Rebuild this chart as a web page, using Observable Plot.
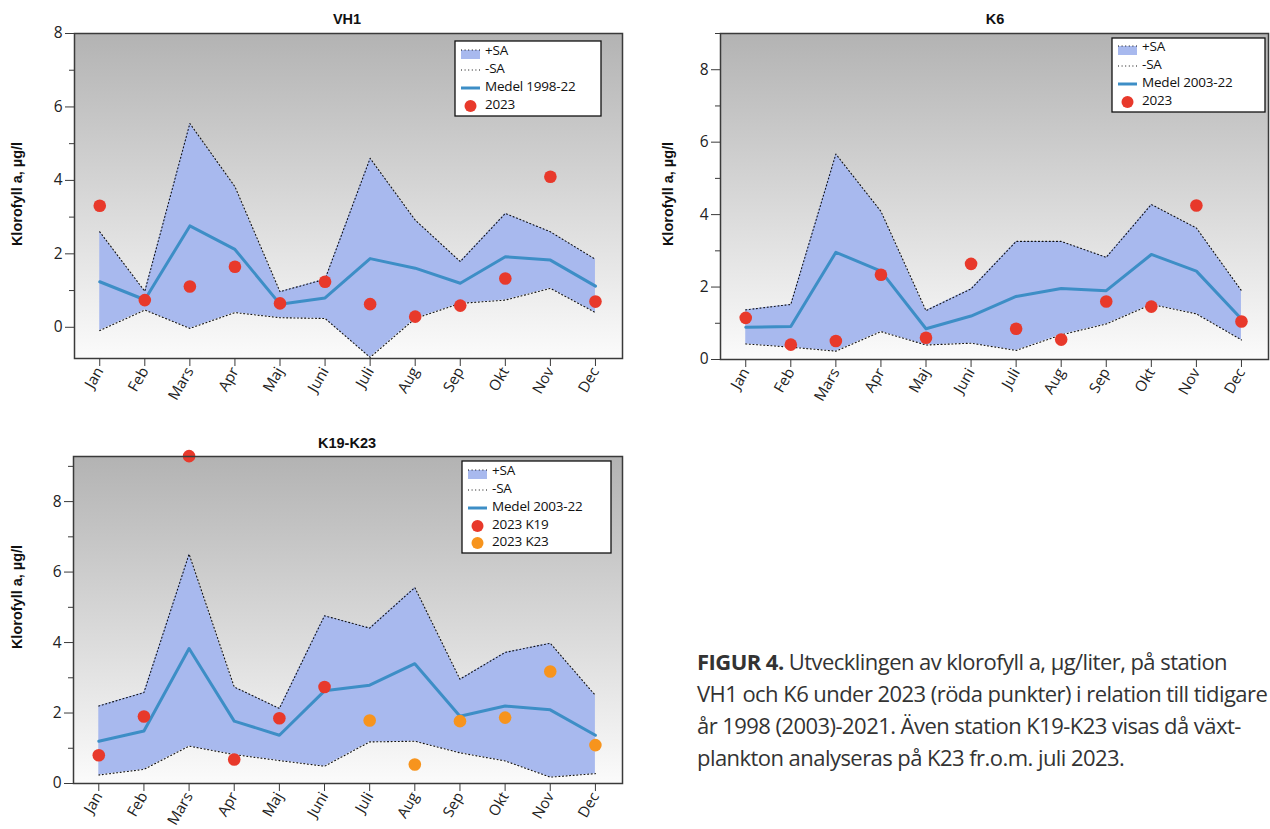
<!DOCTYPE html>
<html>
<head>
<meta charset="utf-8">
<script src="https://cdn.jsdelivr.net/npm/d3@7"></script>
<script src="https://cdn.jsdelivr.net/npm/@observablehq/plot@0.6"></script>
<style>
  html, body { margin: 0; padding: 0; background: #fff; width: 1270px; height: 829px; overflow: hidden; }
  #root { position: relative; width: 1270px; height: 829px; }
  .panel { position: absolute; }
  .caption { position: absolute; left: 697px; top: 645px; font-family: "Open Sans", sans-serif; font-size: 22px; line-height: 32px; color: #333; white-space: nowrap; letter-spacing: -0.55px; }
  .caption b { font-weight: 700; }
  #overlay { position: absolute; left: 0; top: 0; pointer-events: none; }
</style>
</head>
<body>
<div id="root"></div>
<script>
// ---------- data ----------
const months = ["Jan","Feb","Mars","Apr","Maj","Juni","Juli","Aug","Sep","Okt","Nov","Dec"];

// VH1
const vh1Upper = [2.60, 0.98, 5.55, 3.83, 0.97, 1.31, 4.60, 2.92, 1.79, 3.10, 2.60, 1.85];
const vh1Lower = [-0.09, 0.47, -0.03, 0.40, 0.26, 0.24, -0.82, 0.24, 0.65, 0.74, 1.06, 0.40];
const vh1Mean  = [1.24, 0.75, 2.76, 2.12, 0.63, 0.80, 1.87, 1.61, 1.20, 1.92, 1.83, 1.12];
const vh1Obs   = [3.31, 0.74, 1.11, 1.65, 0.65, 1.24, 0.63, 0.29, 0.59, 1.33, 4.10, 0.70];

// K6
const k6Upper = [1.37, 1.52, 5.67, 4.09, 1.35, 1.95, 3.26, 3.26, 2.82, 4.28, 3.63, 1.90];
const k6Lower = [0.43, 0.34, 0.23, 0.77, 0.40, 0.45, 0.25, 0.68, 0.98, 1.52, 1.26, 0.54];
const k6Mean  = [0.89, 0.91, 2.96, 2.44, 0.85, 1.20, 1.74, 1.96, 1.90, 2.90, 2.44, 1.12];
const k6Obs   = [1.15, 0.41, 0.51, 2.34, 0.60, 2.64, 0.85, 0.55, 1.60, 1.46, 4.25, 1.05];

// K19-K23
const k19Upper = [2.20, 2.58, 6.51, 2.74, 2.13, 4.76, 4.41, 5.56, 2.96, 3.72, 3.98, 2.50];
const k19Lower = [0.24, 0.40, 1.06, 0.82, 0.65, 0.49, 1.18, 1.20, 0.87, 0.64, 0.18, 0.28];
const k19Mean  = [1.20, 1.49, 3.83, 1.77, 1.37, 2.63, 2.79, 3.40, 1.91, 2.20, 2.09, 1.37];
const k19Obs   = [0.80, 1.90, 9.29, 0.68, 1.85, 2.74, null, null, null, null, null, null];
const k23Obs   = [null, null, null, null, null, null, 1.79, 0.54, 1.77, 1.87, 3.18, 1.09];

const titles = ["VH1", "K6", "K19-K23"];
const yLabel = "Klorofyll a, µg/l";
const legendVH1 = ["+SA", "-SA", "Medel 1998-22", "2023"];
const legendK6 = ["+SA", "-SA", "Medel 2003-22", "2023"];
const legendK19 = ["+SA", "-SA", "Medel 2003-22", "2023 K19", "2023 K23"];

// ---------- styles ----------
const C = {
  area: "#a8b9ee",
  mean: "#3d8ec6",
  red: "#e8392b",
  orange: "#f7941d",
  frame: "#3a3a3a",
  dots: "1,2.6"
};
const FONT = "'Open Sans', 'Noto Sans', sans-serif";

const root = document.getElementById("root");

function panel(cfg) {
  const data = months.map((m, i) => ({x: i + 1, up: cfg.upper[i], lo: cfg.lower[i], mean: cfg.mean[i]}));
  const pts = [];
  cfg.series.forEach(s => s.values.forEach((v, i) => { if (v != null) pts.push({x: i + 1, v, c: s.color}); }));
  const svg = Plot.plot({
    width: cfg.width, height: cfg.height,
    marginLeft: cfg.ml, marginRight: cfg.mr, marginTop: cfg.mt, marginBottom: cfg.mb,
    style: {fontFamily: FONT, fontSize: "15px", color: "#222", background: "transparent", overflow: "visible"},
    x: {domain: [0.44, 12.6], axis: null},
    y: {domain: cfg.ydomain, axis: null},
    marks: [
      Plot.frame({fill: `url(#${cfg.id}-grad)`}),
      Plot.areaY(data, {x: "x", y1: "lo", y2: "up", fill: C.area, fillOpacity: 1}),
      Plot.lineY(data, {x: "x", y: "up", stroke: "#111", strokeWidth: 1.1, strokeDasharray: C.dots}),
      Plot.lineY(data, {x: "x", y: "lo", stroke: "#111", strokeWidth: 1.1, strokeDasharray: C.dots}),
      Plot.lineY(data, {x: "x", y: "mean", stroke: C.mean, strokeWidth: 3}),
      Plot.dot(pts, {x: "x", y: "v", r: 6.3, fill: "c", stroke: null}),
      Plot.frame({stroke: C.frame, strokeWidth: 1.5}),
      Plot.axisY({ticks: cfg.major, tickSize: 9, tickPadding: 3, label: null, fontSize: 15.5, stroke: C.frame}),
      Plot.axisY({ticks: cfg.minor, tickSize: 5, tickFormat: () => "", label: null, stroke: C.frame}),
      Plot.axisX({ticks: d3.range(1, 13), tickFormat: i => months[i - 1], tickRotate: -60, tickSize: 8, tickPadding: 2, label: null, fontSize: 15, stroke: C.frame})
    ]
  });
  const defs = d3.select(svg).insert("defs", ":first-child");
  const g = defs.append("linearGradient").attr("id", `${cfg.id}-grad`).attr("x1", 0).attr("y1", 0).attr("x2", 0).attr("y2", 1);
  g.append("stop").attr("offset", "0%").attr("stop-color", "#b3b3b3");
  g.append("stop").attr("offset", "100%").attr("stop-color", "#fbfbfb");
  const div = document.createElement("div");
  div.className = "panel";
  div.style.left = cfg.left + "px";
  div.style.top = cfg.top + "px";
  div.appendChild(svg);
  root.appendChild(div);
}

panel({id: "vh1", left: 0, top: 0, width: 630, height: 420, ml: 74, mr: 8, mt: 33, mb: 62,
  ydomain: [-0.85, 8], major: [0, 2, 4, 6, 8], minor: [1, 3, 5, 7],
  upper: vh1Upper, lower: vh1Lower, mean: vh1Mean,
  series: [{values: vh1Obs, color: C.red}]});

panel({id: "k6", left: 640, top: 0, width: 630, height: 420, ml: 80, mr: 2, mt: 33, mb: 61,
  ydomain: [0, 9], major: [0, 2, 4, 6, 8], minor: [1, 3, 5, 7, 9],
  upper: k6Upper, lower: k6Lower, mean: k6Mean,
  series: [{values: k6Obs, color: C.red}]});

panel({id: "k19", left: 0, top: 430, width: 630, height: 399, ml: 73, mr: 8, mt: 26, mb: 46,
  ydomain: [0, 9.28], major: [0, 2, 4, 6, 8], minor: [1, 3, 5, 7, 9],
  upper: k19Upper, lower: k19Lower, mean: k19Mean,
  series: [{values: k19Obs, color: C.red}, {values: k23Obs, color: C.orange}]});

// ---------- overlay: titles, y labels, legends ----------
const ov = d3.select(root).append("svg").attr("id", "overlay").attr("width", 1270).attr("height", 829);

const titlePos = [[347, 20], [995, 20], [347, 444]];
titles.forEach((t, i) => ov.append("text").attr("x", titlePos[i][0]).attr("y", titlePos[i][1])
  .attr("text-anchor", "middle").attr("dominant-baseline", "middle")
  .attr("font-family", "'Liberation Sans', Arial, sans-serif").attr("font-weight", "bold").attr("font-size", 14.5).attr("fill", "#111").text(t));

const ylabPos = [[18, 194], [669, 194], [18, 597]];
ylabPos.forEach(([x, y]) => ov.append("text").attr("transform", `translate(${x},${y}) rotate(-90)`)
  .attr("text-anchor", "middle").attr("dominant-baseline", "middle")
  .attr("font-family", "'Liberation Sans', Arial, sans-serif").attr("font-weight", "bold").attr("font-size", 14.5).attr("fill", "#111").text(yLabel));

function legend(box, rows, items) {
  const g = ov.append("g");
  g.append("rect").attr("x", box.x).attr("y", box.y).attr("width", box.w).attr("height", box.h)
    .attr("fill", "#fff").attr("stroke", "#111").attr("stroke-width", 1.3);
  const sx = box.x + 6, sw = 19, tx = box.x + 30;
  items.forEach((label, i) => {
    const y = rows[i];
    if (i === 0) {
      g.append("rect").attr("x", sx).attr("y", y - 1).attr("width", sw).attr("height", 9).attr("fill", C.area);
      g.append("line").attr("x1", sx).attr("x2", sx + sw).attr("y1", y - 1).attr("y2", y - 1).attr("stroke", "#111").attr("stroke-dasharray", C.dots);
    } else if (i === 1) {
      g.append("line").attr("x1", sx).attr("x2", sx + sw).attr("y1", y + 1).attr("y2", y + 1).attr("stroke", "#111").attr("stroke-dasharray", C.dots);
    } else if (i === 2) {
      g.append("line").attr("x1", sx).attr("x2", sx + sw).attr("y1", y + 1).attr("y2", y + 1).attr("stroke", C.mean).attr("stroke-width", 3);
    } else {
      g.append("circle").attr("cx", sx + sw / 2).attr("cy", y + 1).attr("r", 6).attr("fill", i === 4 ? C.orange : C.red);
    }
    g.append("text").attr("x", tx).attr("y", y).attr("dominant-baseline", "middle")
      .attr("font-family", FONT).attr("font-size", 13.5).attr("letter-spacing", -0.2).attr("fill", "#111").text(label);
  });
}
legend({x: 455, y: 41, w: 146, h: 75}, [51, 69, 87, 105], legendVH1);
legend({x: 1112, y: 38, w: 153, h: 74}, [47, 65, 83, 101], legendK6);
legend({x: 462, y: 461, w: 149, h: 92}, [471, 489, 507, 525, 542], legendK19);

// ---------- caption ----------
const cap = document.createElement("div");
cap.className = "caption";
cap.innerHTML = "<b>FIGUR 4.</b> Utvecklingen av klorofyll a, µg/liter, på station<br>" +
  "VH1 och K6 under 2023 (röda punkter) i relation till tidigare<br>" +
  "år 1998 (2003)-2021. Även station K19-K23 visas då växt-<br>" +
  "plankton analyseras på K23 fr.o.m. juli 2023.";
root.appendChild(cap);
</script>
</body>
</html>
